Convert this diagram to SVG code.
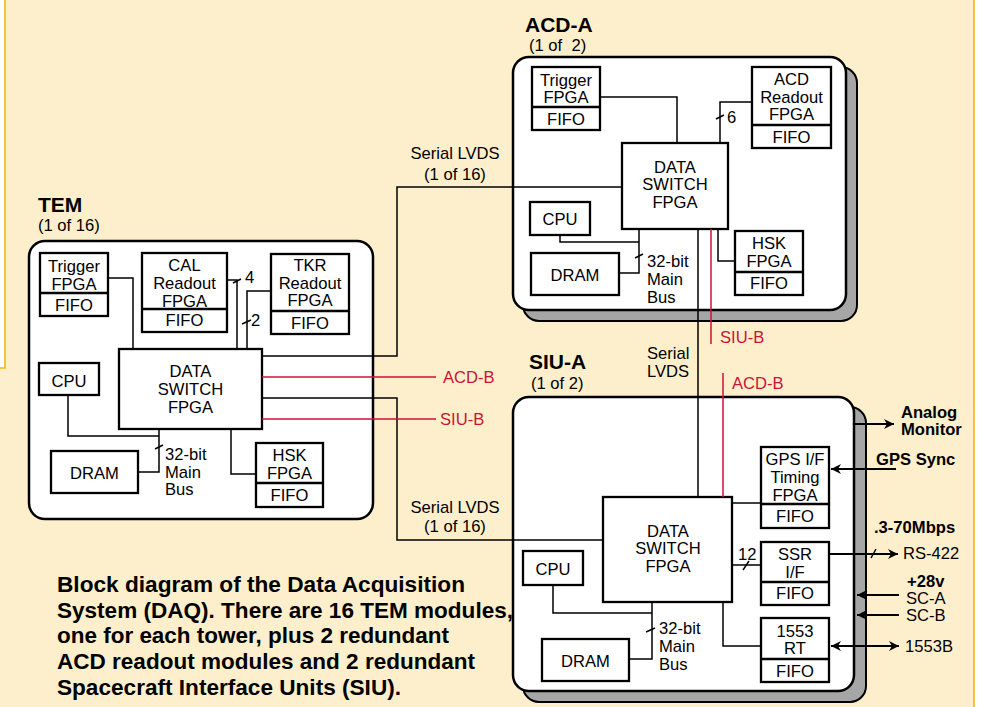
<svg xmlns="http://www.w3.org/2000/svg" width="994" height="707" viewBox="0 0 994 707">
<style>
.bg{fill:#fdefcc}
.ol{stroke:#f5b514;stroke-width:1.6;fill:none}
.mod{fill:#fff;stroke:#000;stroke-width:2.5}
.sh{fill:#a6a6a6;stroke:#000;stroke-width:2}
.box{fill:#fff;stroke:#000;stroke-width:2.3}
.dv{stroke:#000;stroke-width:2.3}
text{font-family:"Liberation Sans",Arial,Helvetica,sans-serif;font-size:16.6px;fill:#000}
.c{text-anchor:middle}
.b{font-weight:bold}
.ttl{font-size:21px;font-weight:bold}
.cap{font-size:22px;font-weight:bold}
.pre{white-space:pre}
.rt{fill:#cc1236}
.w{stroke:#000;stroke-width:1.5;fill:none}
.r{stroke:#cc1236;stroke-width:1.5;fill:none}
.x{stroke:#000;stroke-width:2.2;fill:none}
</style>
<defs>
<marker id="ah" viewBox="0 0 10 10" refX="10" refY="5" markerWidth="11" markerHeight="10" markerUnits="userSpaceOnUse" orient="auto-start-reverse"><path d="M0,0 L10,5 L0,10 L3,5 z" fill="#000"/></marker>
</defs>
<rect x="0" y="0" width="994" height="707" fill="#fff"/>
<rect class="bg" x="0" y="368" width="974" height="339"/>
<rect class="bg" x="5" y="0" width="969" height="369"/>
<path class="ol" d="M5,0 V368 H0"/>
<path class="ol" d="M974,0 V707"/>

<g id="tem">
<rect class="mod" x="29" y="241" width="344" height="278" rx="16"/>
<text class="ttl" x="38" y="212">TEM</text>
<text x="38" y="231">(1 of 16)</text>
</g>
<g id="tem-trigger">
<rect class="box" x="40" y="253" width="68" height="63"/><line class="dv" x1="40" y1="293" x2="108" y2="293"/>
<text class="c" x="74" y="272">Trigger</text><text class="c" x="74" y="290">FPGA</text><text class="c" x="74" y="311">FIFO</text>
</g>
<g id="tem-cal">
<rect class="box" x="142" y="253" width="85" height="79"/><line class="dv" x1="142" y1="309" x2="227" y2="309"/>
<text class="c" x="184.5" y="271">CAL</text><text class="c" x="184.5" y="289">Readout</text><text class="c" x="184.5" y="307">FPGA</text><text class="c" x="184.5" y="326">FIFO</text>
</g>
<g id="tem-tkr">
<rect class="box" x="271" y="254" width="78" height="80"/><line class="dv" x1="271" y1="311" x2="349" y2="311"/>
<text class="c" x="310" y="271">TKR</text><text class="c" x="310" y="289">Readout</text><text class="c" x="310" y="306">FPGA</text><text class="c" x="310" y="329">FIFO</text>
</g>
<g id="tem-dsw">
<rect class="box" x="119" y="349" width="143" height="80"/>
<text class="c" x="190.5" y="377">DATA</text><text class="c" x="190.5" y="395">SWITCH</text><text class="c" x="190.5" y="413">FPGA</text>
</g>
<g id="tem-cpu"><rect class="box" x="39" y="363" width="60" height="32"/><text class="c" x="69" y="387">CPU</text></g>
<g id="tem-dram"><rect class="box" x="51" y="451" width="87" height="42"/><text class="c" x="94.5" y="479">DRAM</text></g>
<g id="tem-hsk">
<rect class="box" x="256" y="443" width="67" height="64"/><line class="dv" x1="256" y1="483" x2="323" y2="483"/>
<text class="c" x="289.5" y="461">HSK</text><text class="c" x="289.5" y="479">FPGA</text><text class="c" x="289.5" y="501">FIFO</text>
</g>

<g id="acd">
<rect class="sh" x="523" y="67" width="334" height="254" rx="16"/>
<rect class="mod" x="513" y="57" width="333" height="253" rx="16"/>
<text class="ttl" x="525" y="32">ACD-A</text>
<text class="pre" x="529" y="51">(1 of  2)</text>
</g>
<g id="acd-trigger">
<rect class="box" x="532" y="67" width="68" height="63"/><line class="dv" x1="532" y1="107" x2="600" y2="107"/>
<text class="c" x="566" y="86">Trigger</text><text class="c" x="566" y="103">FPGA</text><text class="c" x="566" y="125">FIFO</text>
</g>
<g id="acd-readout">
<rect class="box" x="752" y="67" width="79" height="81"/><line class="dv" x1="752" y1="125" x2="831" y2="125"/>
<text class="c" x="791.5" y="85">ACD</text><text class="c" x="791.5" y="103">Readout</text><text class="c" x="791.5" y="120">FPGA</text><text class="c" x="791.5" y="143">FIFO</text>
</g>
<g id="acd-dsw">
<rect class="box" x="622" y="143" width="106" height="86"/>
<text class="c" x="675" y="173">DATA</text><text class="c" x="675" y="190">SWITCH</text><text class="c" x="675" y="208">FPGA</text>
</g>
<g id="acd-cpu"><rect class="box" x="530" y="202" width="60" height="33"/><text class="c" x="560" y="225">CPU</text></g>
<g id="acd-dram"><rect class="box" x="531" y="253" width="88" height="42"/><text class="c" x="575" y="281">DRAM</text></g>
<g id="acd-hsk">
<rect class="box" x="735" y="231" width="68" height="64"/><line class="dv" x1="735" y1="272" x2="803" y2="272"/>
<text class="c" x="769" y="249">HSK</text><text class="c" x="769" y="267">FPGA</text><text class="c" x="769" y="289">FIFO</text>
</g>

<g id="siu">
<rect class="sh" x="523" y="407" width="343" height="295" rx="16"/>
<rect class="mod" x="513" y="397" width="341" height="294" rx="16"/>
<text class="ttl" x="529" y="369">SIU-A</text>
<text x="531" y="389">(1 of 2)</text>
</g>
<g id="siu-dsw">
<rect class="box" x="603" y="497" width="129" height="105"/>
<text class="c" x="668" y="537">DATA</text><text class="c" x="668" y="554">SWITCH</text><text class="c" x="668" y="572">FPGA</text>
</g>
<g id="siu-gps">
<rect class="box" x="761" y="447" width="68" height="81"/><line class="dv" x1="761" y1="504" x2="829" y2="504"/>
<text class="c" x="795" y="465">GPS I/F</text><text class="c" x="795" y="483">Timing</text><text class="c" x="795" y="501">FPGA</text><text class="c" x="795" y="522">FIFO</text>
</g>
<g id="siu-ssr">
<rect class="box" x="761" y="542" width="68" height="63"/><line class="dv" x1="761" y1="582" x2="829" y2="582"/>
<text class="c" x="795" y="560">SSR</text><text class="c" x="795" y="578">I/F</text><text class="c" x="795" y="599">FIFO</text>
</g>
<g id="siu-1553">
<rect class="box" x="761" y="618" width="68" height="64"/><line class="dv" x1="761" y1="659" x2="829" y2="659"/>
<text class="c" x="795" y="637">1553</text><text class="c" x="795" y="654">RT</text><text class="c" x="795" y="677">FIFO</text>
</g>
<g id="siu-cpu"><rect class="box" x="523" y="551" width="60" height="34"/><text class="c" x="553" y="575">CPU</text></g>
<g id="siu-dram"><rect class="box" x="542" y="639" width="87" height="42"/><text class="c" x="585.5" y="667">DRAM</text></g>

<g id="connectors">
<path class="w" d="M108,278 H133 V349"/>
<path class="w" d="M227,280 H237 V349"/>
<path class="w" d="M271,291 H247 V349"/>
<path class="w" d="M68,395 V436 H159"/>
<path class="w" d="M159,429 V472 H138"/>
<path class="w" d="M231,429 V474 H256"/>
<path class="w" d="M233,283 L241,279 M242,324 L251,320 M155,449 L163,445"/>
<text x="245" y="283">4</text>
<text x="251" y="326">2</text>
<text x="165" y="460">32-bit</text><text x="165" y="478">Main</text><text x="165" y="495">Bus</text>
<path class="w" d="M262,356 H397 V187 H622"/>
<path class="w" d="M262,398 H397 V540 H603"/>
<path class="r" d="M262,377 H436"/>
<path class="r" d="M262,419 H436"/>
<text class="rt" x="443" y="383">ACD-B</text>
<text class="rt" x="440" y="425">SIU-B</text>
<text class="c" x="455" y="159">Serial LVDS</text><text class="c" x="455" y="180">(1 of 16)</text>
<text class="c" x="455" y="513">Serial LVDS</text><text class="c" x="455" y="532">(1 of 16)</text>
<path class="w" d="M600,97 H677 V143"/>
<path class="w" d="M752,102 H720 V143"/>
<path class="w" d="M560,235 V242 H639"/>
<path class="w" d="M639,229 V273 H619"/>
<path class="w" d="M718,229 V261 H735"/>
<path class="w" d="M716,119 L724,115 M635,258 L643,254"/>
<text x="727" y="123">6</text>
<text x="647" y="267">32-bit</text><text x="647" y="285">Main</text><text x="647" y="303">Bus</text>
<path class="w" d="M698,229 V497"/>
<path class="r" d="M711,229 V344"/>
<text class="rt" x="720" y="343">SIU-B</text>
<path class="r" d="M723,373 V497"/>
<text class="rt" x="732" y="389">ACD-B</text>
<text x="647" y="359">Serial</text><text x="647" y="377">LVDS</text>
<path class="w" d="M732,503 H761"/>
<path class="w" d="M732,565 H761"/>
<path class="w" d="M723,602 V646 H761"/>
<path class="w" d="M553,585 V613 H652"/>
<path class="w" d="M652,602 V659 H629"/>
<path class="w" d="M743,570 L749,561 M646,632 L655,628"/>
<text x="738" y="560">12</text>
<text x="659" y="634">32-bit</text><text x="659" y="652">Main</text><text x="659" y="670">Bus</text>
<path class="x" d="M854,424 H894" marker-end="url(#ah)"/>
<path class="x" d="M896,469 H831" marker-end="url(#ah)"/>
<path class="x" d="M829,554 H898" marker-end="url(#ah)"/>
<path class="w" d="M871,558 L876,549"/>
<path class="x" d="M899,595 H857" marker-end="url(#ah)"/>
<path class="x" d="M899,615 H857" marker-end="url(#ah)"/>
<path class="x" d="M831,646 H899" marker-start="url(#ah)" marker-end="url(#ah)"/>
<text class="b" x="901" y="418">Analog</text><text class="b" x="901" y="435">Monitor</text>
<text class="b" x="876" y="465">GPS Sync</text>
<text class="b" x="874" y="533">.3-70Mbps</text>
<text x="903" y="559">RS-422</text>
<text class="b" x="907" y="587">+28v</text>
<text x="906" y="604">SC-A</text>
<text x="906" y="621">SC-B</text>
<text x="905" y="652">1553B</text>
</g>

<g id="caption">
<text class="cap" x="57" y="592" textLength="408" lengthAdjust="spacingAndGlyphs">Block diagram of the Data Acquisition</text>
<text class="cap" x="57" y="618" textLength="456" lengthAdjust="spacingAndGlyphs">System (DAQ). There are 16 TEM modules,</text>
<text class="cap" x="57" y="643" textLength="392" lengthAdjust="spacingAndGlyphs">one for each tower, plus 2 redundant</text>
<text class="cap" x="57" y="669" textLength="418" lengthAdjust="spacingAndGlyphs">ACD readout modules and 2 redundant</text>
<text class="cap" x="57" y="695" textLength="344" lengthAdjust="spacingAndGlyphs">Spacecraft Interface Units (SIU).</text>
</g>
</svg>
